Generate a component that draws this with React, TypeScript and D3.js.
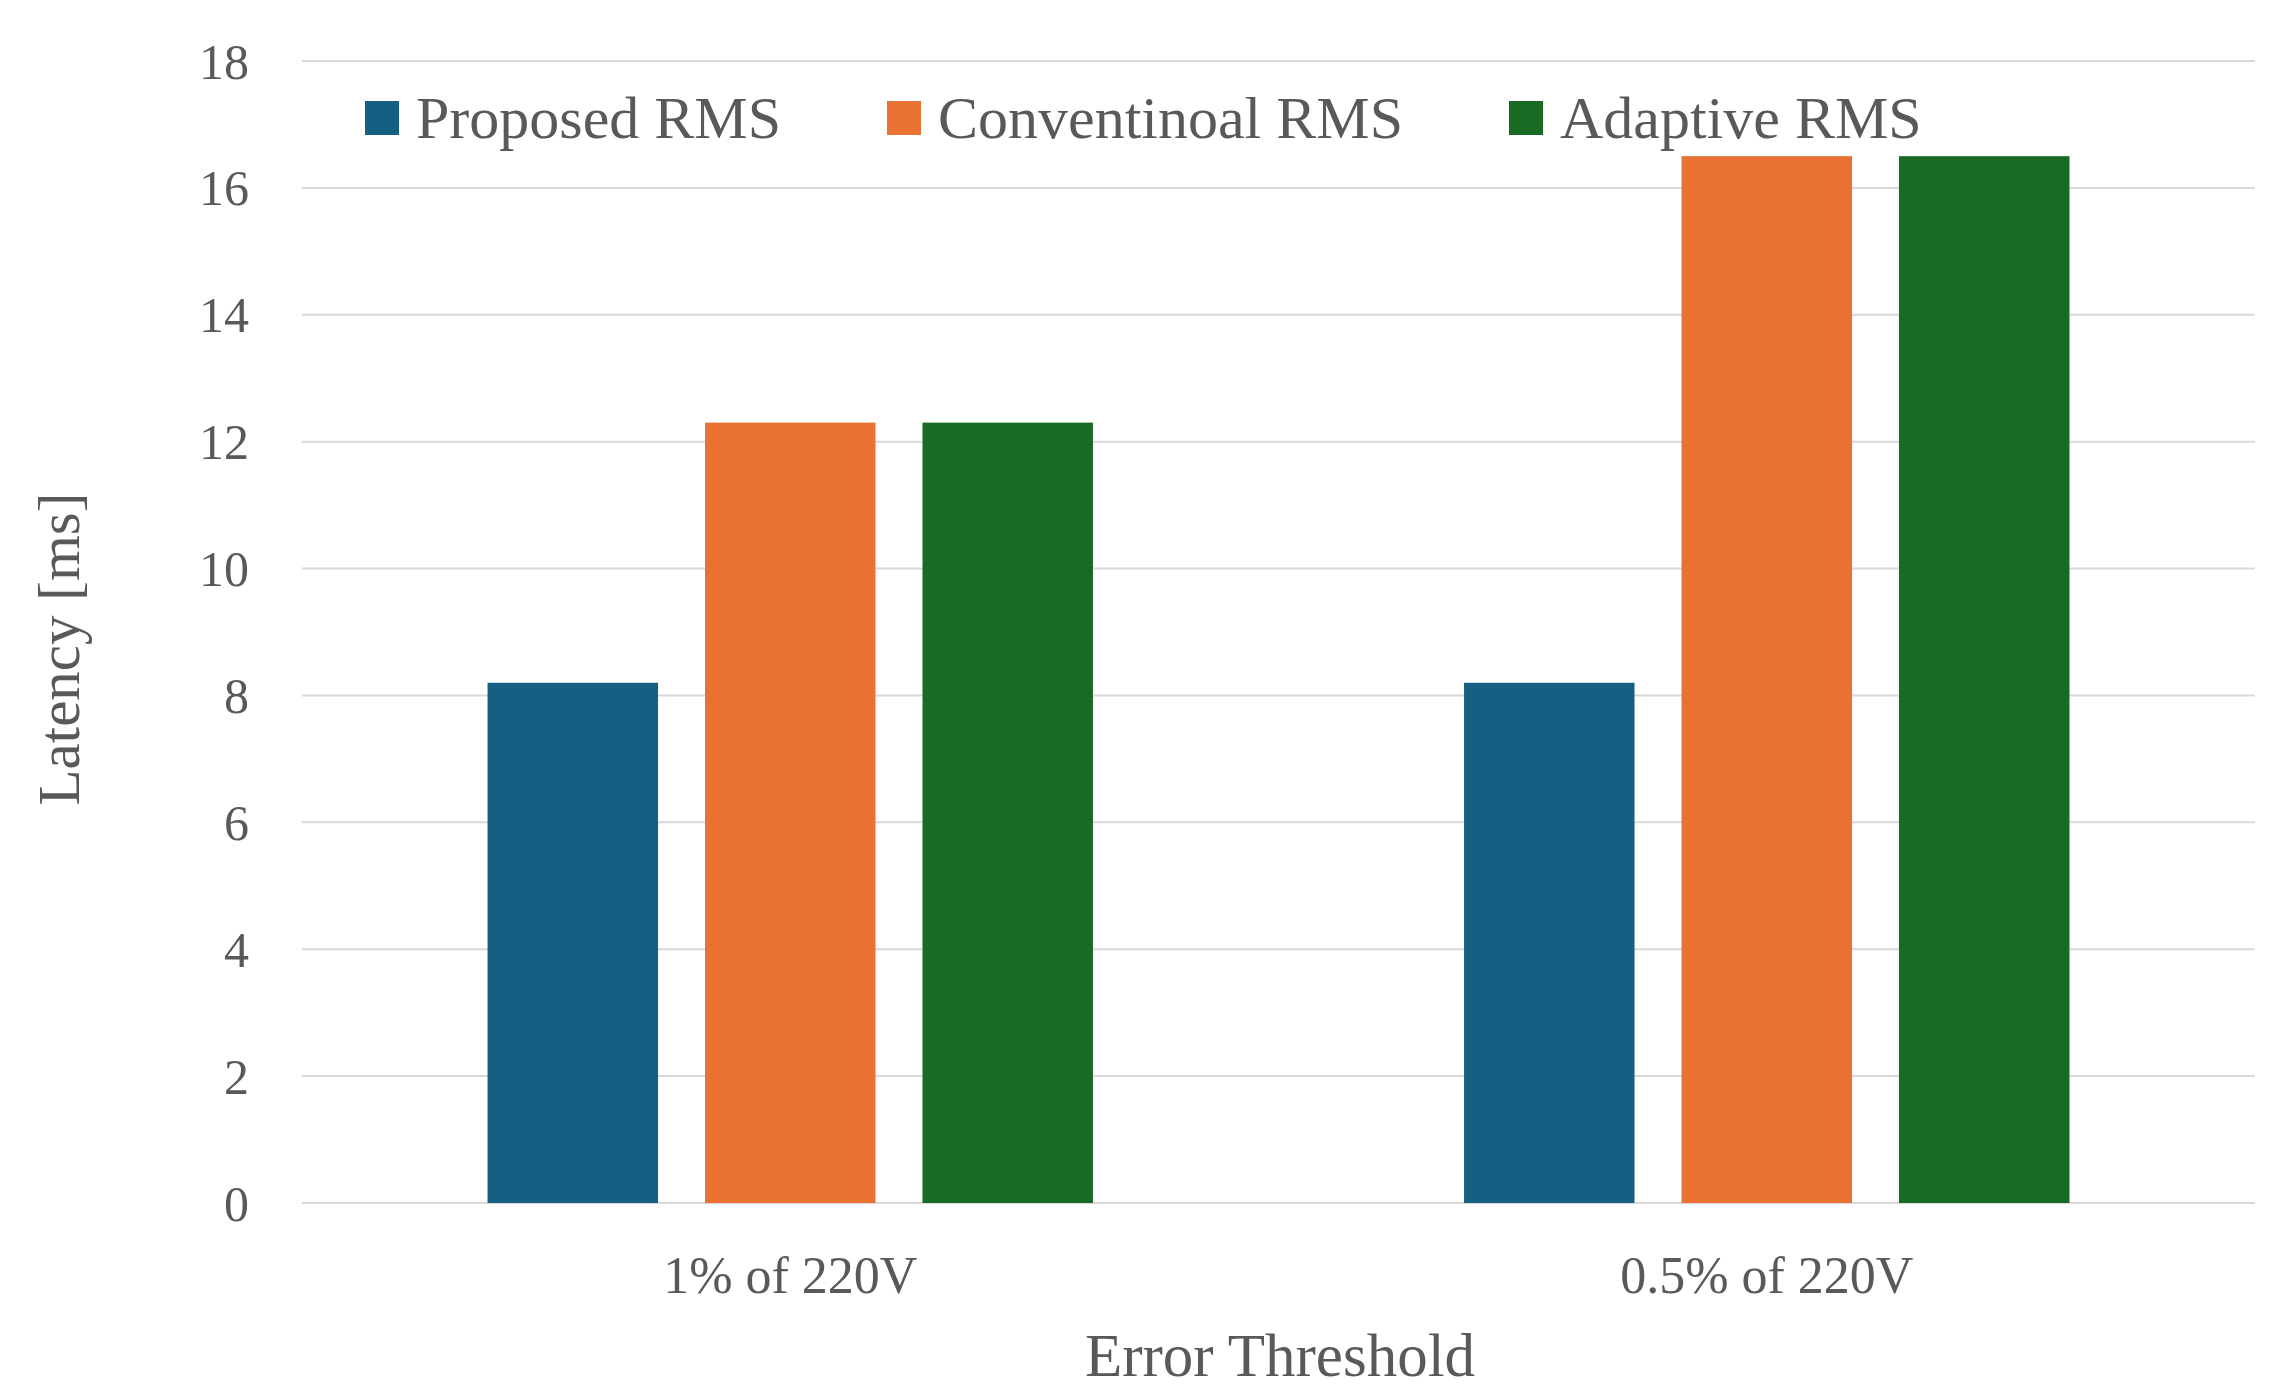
import { useEffect, useRef } from 'react';
import * as d3 from 'd3';

// Latency per error threshold
const categories = ['1% of 220V', '0.5% of 220V'];
const seriesNames = ['Proposed RMS', 'Conventinoal RMS', 'Adaptive RMS'];
const proposed = [8.2, 8.2];
const conventional = [12.3, 16.5];
const adaptive = [12.3, 16.5];
const yTicks = [0, 2, 4, 6, 8, 10, 12, 14, 16, 18];

const colors = ['#156082', '#E97132', '#196B24'];
const FONT = '"Liberation Serif", "Times New Roman", serif';
const TEXT = '#595959';

export default function App() {
  const svgRef = useRef<SVGSVGElement>(null);

  useEffect(() => {
    if (!svgRef.current) return;
    document.body.style.margin = '0';

    const svg = d3.select(svgRef.current);
    svg.selectAll('*').remove();

    const width = 2279;
    const height = 1396;
    const margin = { top: 61, right: 24, bottom: 193, left: 302 };
    const W = width - margin.left - margin.right;
    const H = height - margin.top - margin.bottom;

    svg.attr('width', width).attr('height', height);
    const g = svg.append('g').attr('transform', `translate(${margin.left},${margin.top})`);

    const values = [proposed, conventional, adaptive];
    const data = categories.map((c, i) => ({
      category: c,
      bars: seriesNames.map((s, j) => ({ series: s, value: values[j][i], color: colors[j] })),
    }));

    const x0 = d3.scaleBand().domain(categories).range([0, W]).paddingInner(0.38).paddingOuter(0.19);
    const x1 = d3.scaleBand().domain(seriesNames).range([0, x0.bandwidth()]).paddingInner(0.216);
    const y = d3.scaleLinear().domain([0, 18]).range([H, 0]);

    // Grid
    g.append('g')
      .selectAll('line')
      .data(yTicks)
      .enter().append('line')
      .attr('x1', 0)
      .attr('x2', W)
      .attr('y1', (d) => y(d))
      .attr('y2', (d) => y(d))
      .attr('stroke', '#D9D9D9')
      .attr('stroke-width', 2);

    // Bars
    const groups = g.selectAll('.grp')
      .data(data)
      .enter().append('g')
      .attr('class', 'grp')
      .attr('transform', (d) => `translate(${x0(d.category) ?? 0},0)`);

    groups.selectAll('rect')
      .data((d) => d.bars)
      .enter().append('rect')
      .attr('x', (d) => x1(d.series) ?? 0)
      .attr('y', (d) => y(d.value))
      .attr('width', x1.bandwidth())
      .attr('height', (d) => H - y(d.value))
      .attr('fill', (d) => d.color);

    // Y axis labels
    g.append('g')
      .selectAll('text')
      .data(yTicks)
      .enter().append('text')
      .attr('x', -53)
      .attr('y', (d) => y(d))
      .attr('dy', '0.35em')
      .attr('text-anchor', 'end')
      .attr('font-family', FONT)
      .attr('font-size', 50)
      .attr('fill', TEXT)
      .text((d) => d);

    // X axis labels
    g.append('g')
      .selectAll('text')
      .data(categories)
      .enter().append('text')
      .attr('x', (d) => (x0(d) ?? 0) + x0.bandwidth() / 2)
      .attr('y', H + 72)
      .attr('dy', '0.35em')
      .attr('text-anchor', 'middle')
      .attr('font-family', FONT)
      .attr('font-size', 52)
      .attr('fill', TEXT)
      .text((d) => d);

    // Axis titles
    svg.append('text')
      .attr('x', 1280)
      .attr('y', 1355)
      .attr('dy', '0.35em')
      .attr('text-anchor', 'middle')
      .attr('font-family', FONT)
      .attr('font-size', 61)
      .attr('fill', TEXT)
      .text('Error Threshold');

    svg.append('text')
      .attr('transform', 'translate(58,649) rotate(-90)')
      .attr('dy', '0.35em')
      .attr('text-anchor', 'middle')
      .attr('font-family', FONT)
      .attr('font-size', 59)
      .attr('fill', TEXT)
      .text('Latency [ms]');

    // Legend
    const legendX = [365, 887, 1509];
    const legend = svg.append('g')
      .selectAll('g')
      .data(seriesNames)
      .enter().append('g')
      .attr('transform', (_, i) => `translate(${legendX[i]},117)`);

    legend.append('rect')
      .attr('x', 0)
      .attr('y', -16)
      .attr('width', 34)
      .attr('height', 34)
      .attr('fill', (_, i) => colors[i]);

    legend.append('text')
      .attr('x', 51)
      .attr('y', 0)
      .attr('dy', '0.35em')
      .attr('font-family', FONT)
      .attr('font-size', 60)
      .attr('fill', TEXT)
      .text((d) => d);
  }, []);

  return <svg ref={svgRef} style={{ display: 'block' }} />;
}
